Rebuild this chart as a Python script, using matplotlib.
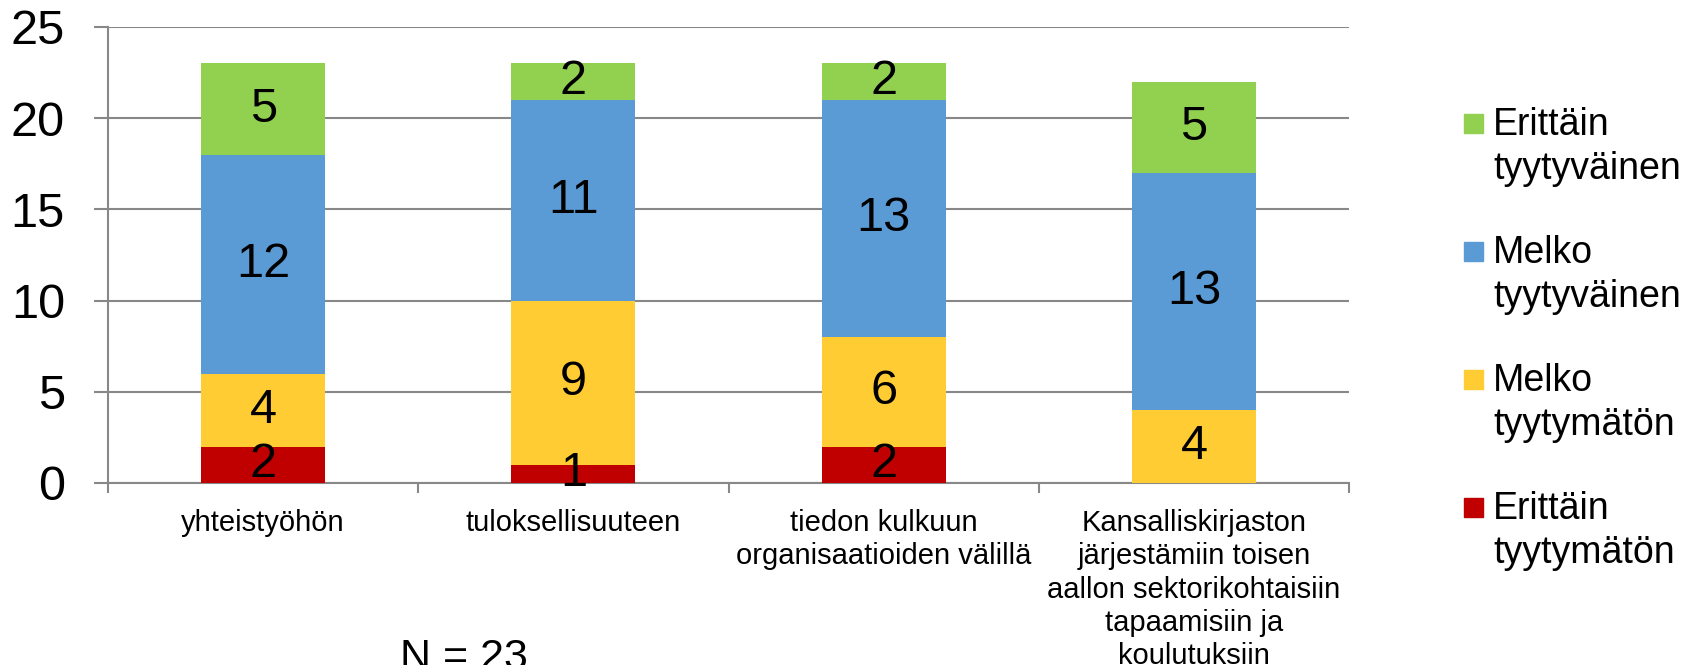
import matplotlib
matplotlib.use('Agg')
import matplotlib.pyplot as plt
from matplotlib.patches import Rectangle
import numpy as np

plt.rcParams['font.family'] = ['Liberation Sans', 'DejaVu Sans']

# data
categories = ['yhteistyöhön',
              'tuloksellisuuteen',
              'tiedon kulkuun\norganisaatioiden välillä',
              'Kansalliskirjaston\njärjestämiin toisen\naallon sektorikohtaisiin\ntapaamisiin ja\nkoulutuksiin']
erittain_tyytymaton = [2, 1, 2, 0]
melko_tyytymaton = [4, 9, 6, 4]
melko_tyytyvainen = [12, 11, 13, 13]
erittain_tyytyvainen = [5, 2, 2, 5]

series = [erittain_tyytymaton, melko_tyytymaton, melko_tyytyvainen, erittain_tyytyvainen]
series_names = ['Erittäin\ntyytymätön', 'Melko\ntyytymätön', 'Melko\ntyytyväinen', 'Erittäin\ntyytyväinen']
colors = ['#C00000', '#FFCC33', '#5B9BD5', '#92D050']
grid_col = '#888888'

W, H = 1694, 665
fig = plt.figure(figsize=(W / 100, H / 100), dpi=100)
ax = fig.add_axes([108 / W, 182 / H, 1241 / W, 456 / H])

x = np.arange(len(categories))
bottom = np.zeros(len(categories))
for vals, col in zip(series, colors):
    vals = np.array(vals, dtype=float)
    ax.bar(x, vals, 0.4, bottom=bottom, color=col, zorder=3)
    for xi, b, v in zip(x, bottom, vals):
        if v > 0:
            ax.text(xi, b + v / 2, f'{int(v)}', ha='center', va='center',
                    fontsize=35, zorder=4)
    bottom += vals

ax.set_xlim(-0.5, len(categories) - 0.5)
ax.set_ylim(0, 25)
ax.set_yticks(np.arange(0, 26, 5))
ax.grid(axis='y', color=grid_col, linewidth=1.5, zorder=0)
ax.tick_params(axis='y', length=10, width=1.5, color=grid_col, pad=21, labelsize=35)

ax.set_xticks(np.arange(len(categories) + 1) - 0.5)
ax.set_xticklabels([])
ax.set_xticks(x, minor=True)
ax.set_xticklabels(categories, minor=True, fontsize=21, linespacing=1.23)
ax.tick_params(axis='x', which='major', length=7, width=1.5, color=grid_col)
ax.tick_params(axis='x', which='minor', length=0, pad=19)

for s in ['top', 'right']:
    ax.spines[s].set_visible(False)
for s in ['left', 'bottom']:
    ax.spines[s].set_color(grid_col)
    ax.spines[s].set_linewidth(1.5)

fig.text(464 / W, 1 - 638 / H, 'N = 23', ha='center', va='top', fontsize=31)

# legend, top entry is the last series
for i, (name, col) in enumerate(zip(series_names[::-1], colors[::-1])):
    top = 114 + 128 * i
    fig.add_artist(Rectangle((1464 / W, 1 - (top + 19) / H), 19 / W, 19 / H,
                             transform=fig.transFigure, color=col))
    fig.text(1493 / W, 1 - (top - 7) / H, name, ha='left', va='top',
             fontsize=27, linespacing=1.27)

fig.savefig('out.png', dpi=100)
